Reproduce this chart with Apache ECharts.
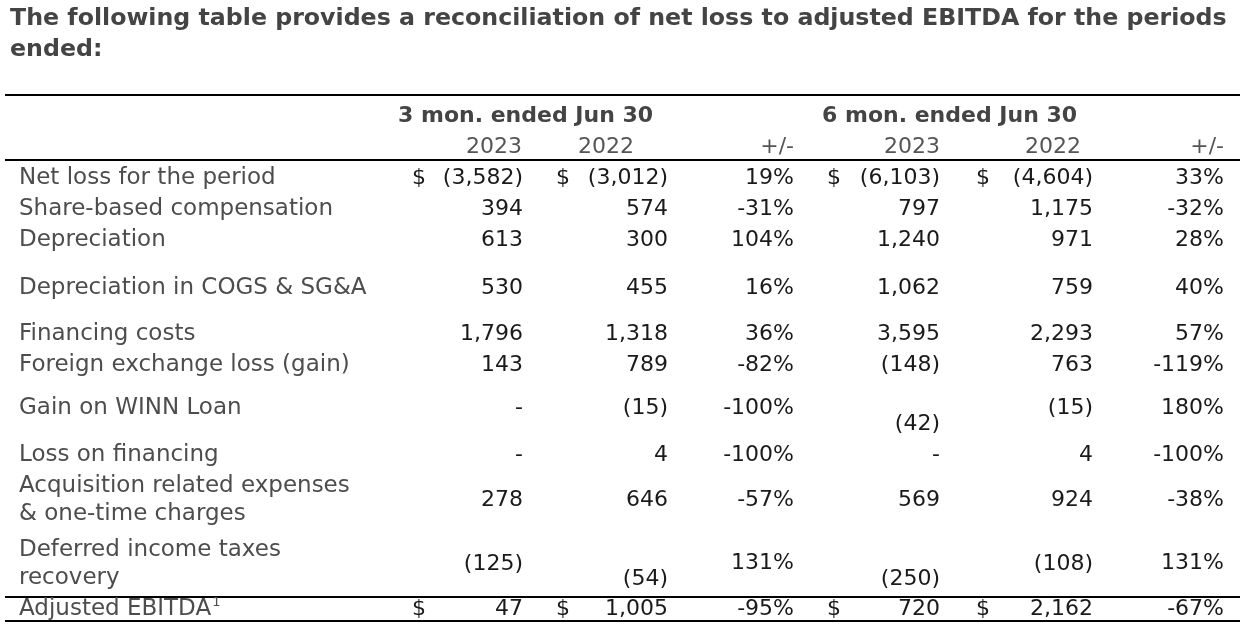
<!DOCTYPE html>
<html><head><meta charset="utf-8">
<script src="https://cdn.jsdelivr.net/npm/echarts@6/dist/echarts.min.js"></script>
<style>html,body{margin:0;padding:0;background:#fff}#c{width:1248px;height:636px}</style>
</head><body><div id="c"></div>
<script>
// ---------- DATA ----------
const titleText = 'The following table provides a reconciliation of net loss to adjusted EBITDA for the periods\nended:';
const groupHeaders = ['3 mon. ended Jun 30', '6 mon. ended Jun 30'];
const columnHeaders = ['2023', '2022', '+/-', '2023', '2022', '+/-'];
const categories = [
  'Net loss for the period',
  'Share-based compensation',
  'Depreciation',
  'Depreciation in COGS & SG&A',
  'Financing costs',
  'Foreign exchange loss (gain)',
  'Gain on WINN Loan',
  'Loss on financing',
  'Acquisition related expenses\n& one-time charges',
  'Deferred income taxes\nrecovery',
  'Adjusted EBITDA'
];
const footnoteMark = '1';
const q2023 = [-3582, 394, 613, 530, 1796, 143, null, null, 278, -125, 47];
const q2022 = [-3012, 574, 300, 455, 1318, 789, -15, 4, 646, -54, 1005];
const qChange = [19, -31, 104, 16, 36, -82, -100, -100, -57, 131, -95];
const h2023 = [-6103, 797, 1240, 1062, 3595, -148, -42, null, 569, -250, 720];
const h2022 = [-4604, 1175, 971, 759, 2293, 763, -15, 4, 924, -108, 2162];
const hChange = [33, -32, 28, 40, 57, -119, 180, -100, -38, 131, -67];

// ---------- LAYOUT / STYLE ----------
const W = 1248, H = 636;
const FONT = '"DejaVu Sans", sans-serif';
const colRight = [523, 668, 794, 940, 1093, 1224];
const headerRight = [522, 634, 794, 940, 1081, 1224];
const groupLeft = [398, 822];
const dollarLeft = [412, 556, 827, 976];
const dollarCols = [0, 1, 3, 4];
const dollarRows = [0, 10];
const labelX = 19;
const rowLabelY = [178, 209, 240, 288, 334, 365, 408, 455, 500, 564, 609];
const rowValueY = [178, 209, 240, 288, 334, 365, 408, 455, 500, 564, 609];
const cellYOverride = { '6_3': 424, '9_1': 579, '9_3': 579, '9_2': 563, '9_5': 563 };
const rules = [[5, 95, 1240], [5, 160, 1240], [5, 597, 1240], [5, 621, 1240]];

const valueCols = [q2023, q2022, qChange, h2023, h2022, hChange];
const pctCol = [false, false, true, false, false, true];
function fmtNum(v) {
  if (v === null) return '-';
  const s = Math.abs(v).toLocaleString('en-US');
  return v < 0 ? '(' + s + ')' : s;
}
function fmtPct(v) { return v + '%'; }

const cellData = [], cellTexts = [];
categories.forEach((_, r) => {
  valueCols.forEach((col, c) => {
    const key = r + '_' + c;
    const y = cellYOverride[key] !== undefined ? cellYOverride[key] : rowValueY[r];
    cellData.push([colRight[c], y]);
    cellTexts.push(pctCol[c] ? fmtPct(col[r]) : fmtNum(col[r]));
  });
});
const dollarData = [];
dollarRows.forEach(r => dollarCols.forEach((c, i) => dollarData.push([dollarLeft[i], rowValueY[r]])));
const labelData = categories.map((_, r) => [labelX, rowLabelY[r]]);
const headerData = [], headerTexts = [], headerKinds = [];
groupHeaders.forEach((t, i) => { headerData.push([groupLeft[i], 116]); headerTexts.push(t); headerKinds.push('g'); });
columnHeaders.forEach((t, i) => { headerData.push([headerRight[i], 147]); headerTexts.push(t); headerKinds.push('c'); });

const chart = echarts.init(document.getElementById('c'), null, { renderer: 'canvas' });
chart.setOption({
  animation: false,
  backgroundColor: '#fff',
  title: {
    text: titleText, left: 5, top: -2,
    textStyle: { fontFamily: FONT, fontWeight: 'bold', fontSize: 23.7, color: '#444', lineHeight: 31 }
  },
  grid: { left: 0, right: 0, top: 0, bottom: 0 },
  xAxis: { type: 'value', min: 0, max: W, show: false },
  yAxis: { type: 'value', min: 0, max: H, inverse: true, show: false },
  series: [
    {
      type: 'custom', name: 'rules', silent: true, data: rules,
      renderItem: (p, api) => {
        const a = api.coord([api.value(0), api.value(1)]);
        const b = api.coord([api.value(2), api.value(1)]);
        return { type: 'line', shape: { x1: a[0], y1: a[1], x2: b[0], y2: b[1] }, style: { stroke: '#000', lineWidth: 2 } };
      }
    },
    {
      type: 'custom', name: 'headers', silent: true, data: headerData,
      renderItem: (p, api) => {
        const pt = api.coord([api.value(0), api.value(1)]);
        const g = headerKinds[p.dataIndex] === 'g';
        return { type: 'text', x: pt[0], y: pt[1], style: {
          text: headerTexts[p.dataIndex],
          font: g ? ('bold 22px ' + FONT) : ('22px ' + FONT),
          fill: g ? '#444' : '#555',
          align: g ? 'left' : 'right', verticalAlign: 'middle' } };
      }
    },
    {
      type: 'custom', name: 'labels', silent: true, data: labelData,
      renderItem: (p, api) => {
        const pt = api.coord([api.value(0), api.value(1)]);
        const r = p.dataIndex;
        const last = r === categories.length - 1;
        return { type: 'text', x: pt[0], y: pt[1], style: {
          text: last ? '{m|' + categories[r] + '}{s|' + footnoteMark + '}' : categories[r],
          font: '23px ' + FONT, fill: '#4d4d4d', lineHeight: 28,
          align: 'left', verticalAlign: 'middle',
          rich: {
            m: { fontFamily: FONT, fontSize: 23, fill: '#4d4d4d', lineHeight: 28 },
            s: { fontFamily: FONT, fontSize: 13, fill: '#4d4d4d', verticalAlign: 'top', padding: [1, 0, 0, 1] }
          } } };
      }
    },
    {
      type: 'custom', name: 'dollars', silent: true, data: dollarData,
      renderItem: (p, api) => {
        const pt = api.coord([api.value(0), api.value(1)]);
        return { type: 'text', x: pt[0], y: pt[1], style: { text: '$', font: '22px ' + FONT, fill: '#1a1a1a', align: 'left', verticalAlign: 'middle' } };
      }
    },
    {
      type: 'custom', name: 'cells', silent: true, data: cellData,
      renderItem: (p, api) => {
        const pt = api.coord([api.value(0), api.value(1)]);
        return { type: 'text', x: pt[0], y: pt[1], style: { text: cellTexts[p.dataIndex], font: '22px ' + FONT, fill: '#1a1a1a', align: 'right', verticalAlign: 'middle' } };
      }
    }
  ]
});
</script></body></html>
